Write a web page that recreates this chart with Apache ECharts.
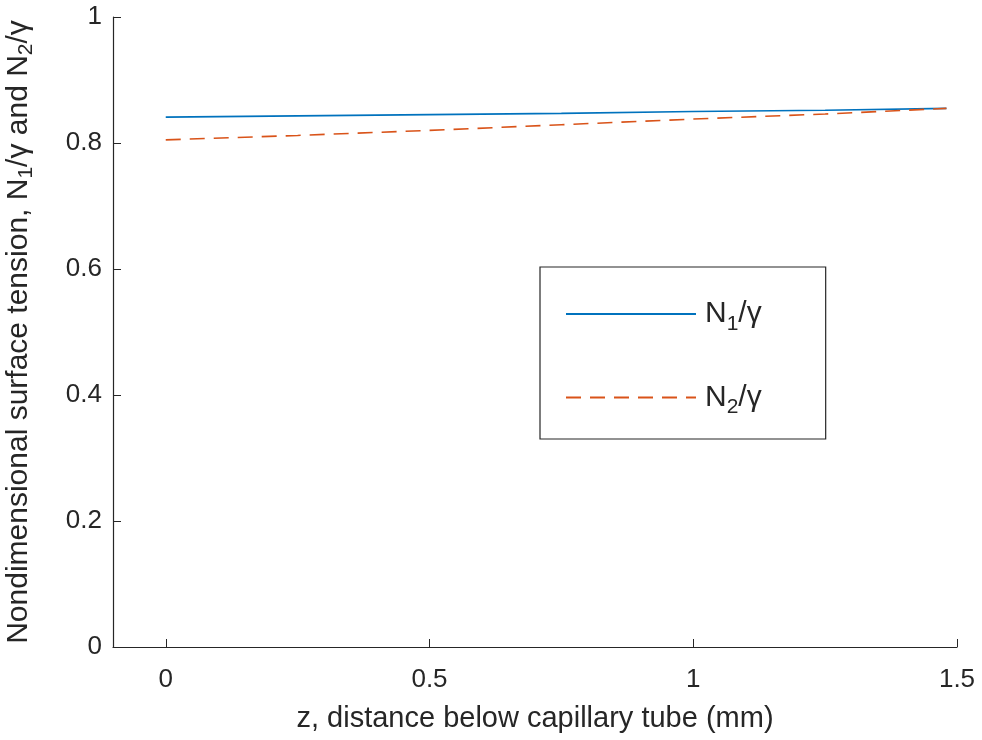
<!DOCTYPE html>
<html>
<head>
<meta charset="utf-8">
<script src="https://cdn.jsdelivr.net/npm/echarts@6/dist/echarts.min.js"></script>
<style>
  html, body { margin: 0; padding: 0; background: #fff; }
  #chart { width: 982px; height: 740px; }
</style>
</head>
<body>
<div id="chart"></div>
<script>
// data
const zValues = [0, 0.25, 0.5, 0.75, 1, 1.25, 1.48];
const n1Values = [0.841, 0.843, 0.845, 0.847, 0.850, 0.852, 0.855];
const n2Values = [0.805, 0.812, 0.820, 0.829, 0.838, 0.846, 0.855];
const xTicks = [0, 0.5, 1, 1.5];

const textColor = "#262626";
const font = "Liberation Sans";

let chart = echarts.init(document.querySelector("#chart"));

function pairs(ys) {
    return zValues.map((z, i) => [z, ys[i]]);
}

let option = {
    animation: false,
    textStyle: { fontFamily: font, color: textColor },
    grid: { left: 113, right: 25, top: 17, bottom: 93, outerBoundsMode: "none", containLabel: false },
    legend: {
        orient: "vertical",
        left: 540,
        top: 267,
        padding: [32, 64, 21, 25],
        itemGap: 48,
        itemWidth: 130,
        itemHeight: 16,
        borderColor: "#262626",
        borderWidth: 1.2,
        itemStyle: { opacity: 0 },
        data: ["n1", "n2"],
        formatter: function (name) {
            let idx = name == "n1" ? 1 : 2;
            return "{p|N}{s|" + idx + "}{n|/γ}";
        },
        textStyle: {
            color: textColor,
            rich: {
                p: { fontSize: 30, fontFamily: font, color: textColor, padding: [0, 0, 0, 4] },
                n: { fontSize: 30, fontFamily: font, color: textColor },
                s: { fontSize: 21, fontFamily: font, color: textColor, padding: [20, 0, 0, 0] }
            }
        }
    },
    xAxis: {
        type: "value",
        min: -0.1,
        max: 1.5,
        name: "z, distance below capillary tube (mm)",
        nameLocation: "middle",
        nameGap: 57,
        nameTextStyle: { fontSize: 29, color: textColor, fontFamily: font },
        axisLine: { onZero: false, lineStyle: { color: "#262626", width: 1.2 } },
        axisTick: { inside: true, length: 8, customValues: xTicks, lineStyle: { color: "#262626" } },
        axisLabel: {
            customValues: xTicks,
            fontSize: 26,
            color: textColor,
            margin: 20,
            formatter: v => String(v)
        },
        splitLine: { show: false }
    },
    yAxis: {
        type: "value",
        min: 0,
        max: 1,
        interval: 0.2,
        name: "{t|Nondimensional surface tension, N}{s|1}{t|/γ and N}{s|2}{t|/γ}",
        nameLocation: "middle",
        nameGap: 76,
        nameTextStyle: {
            rich: {
                t: { fontSize: 30, fontFamily: font, color: textColor },
                s: { fontSize: 21, fontFamily: font, color: textColor, padding: [16, 0, 0, 0] }
            }
        },
        axisLine: { show: true, onZero: false, lineStyle: { color: "#262626", width: 1.2 } },
        axisTick: { show: true, inside: true, length: 8, lineStyle: { color: "#262626" } },
        axisLabel: { fontSize: 26, color: textColor, margin: 11 },
        splitLine: { show: false }
    },
    series: [
        {
            name: "n1",
            type: "line",
            data: pairs(n1Values),
            symbol: "none",
            lineStyle: { color: "#0072BD", width: 1.6 },
            itemStyle: { color: "#0072BD" }
        },
        {
            name: "n2",
            type: "line",
            data: pairs(n2Values),
            symbol: "none",
            lineStyle: { color: "#D95319", width: 1.6, type: [15, 9] },
            itemStyle: { color: "#D95319" }
        }
    ]
};

chart.setOption(option);
</script>
</body>
</html>
